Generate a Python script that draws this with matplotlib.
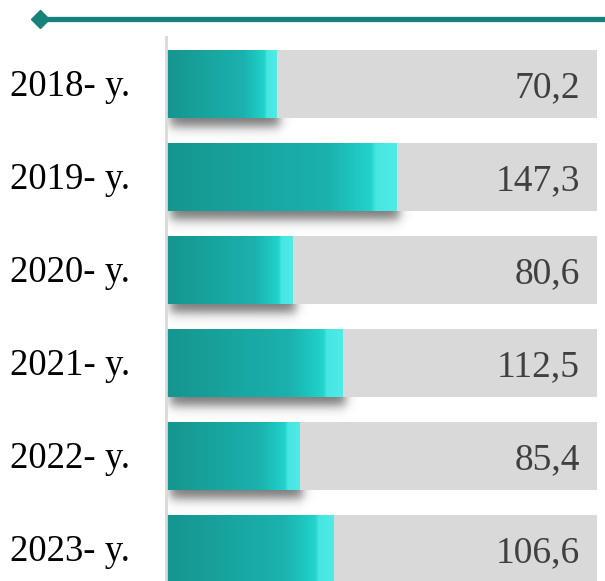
import numpy as np
import matplotlib
matplotlib.use("Agg")
import matplotlib.pyplot as plt
from matplotlib.colors import LinearSegmentedColormap

years = ["2018- y.", "2019- y.", "2020- y.", "2021- y.", "2022- y.", "2023- y."]
values = [70.2, 147.3, 80.6, 112.5, 85.4, 106.6]
value_labels = ["70,2", "147,3", "80,6", "112,5", "85,4", "106,6"]
track_max = 275

W, H = 605, 581
fig = plt.figure(figsize=(W / 100, H / 100), dpi=100)
fig.patch.set_facecolor("white")

# pixel <-> data scale of the bar area
x_px = 1 / 1.568
y_px = 1 / 93
ax = fig.add_axes([166 / W, 0, (W - 166) / W, 544 / H])
bar_h = 68 / 93

teal = LinearSegmentedColormap.from_list("teal", [
    (0.00, "#15958f"), (0.70, "#1bb2ad"), (0.80, "#1dc3bd"),
    (0.89, "#22d3cc"), (0.91, "#46e6e1"), (1.00, "#50ebe6")])
grad = teal(np.linspace(0, 1, 512))[None, :, :]

sig = lambda t: 1 / (1 + np.exp(-t))

for i, (v, lab) in enumerate(zip(values, value_labels)):
    ax.barh(i, track_max, height=bar_h, color="#d9d9d9", zorder=1)

    # soft drop shadow, kept underneath the grey track
    x0, x1 = 4 * x_px, v + 3 * x_px
    y0, y1 = i - bar_h / 2 + 9 * y_px, i + bar_h / 2 + 9 * y_px
    sx, sy = 3.0, 3.2
    xa, xb = 0, v + 18 * x_px
    ya, yb = i, i + bar_h / 2 + 24 * y_px
    xx = np.linspace(xa, xb, 200)
    yy = np.linspace(ya, yb, 80)
    X, Y = np.meshgrid(xx, yy)
    a = (sig((X - x0) / (sx * x_px)) * sig((x1 - X) / (sx * x_px))
         * sig((Y - y0) / (sy * y_px)) * sig((y1 - Y) / (sy * y_px)))
    rgba = np.zeros((80, 200, 4))
    rgba[..., :3] = 0.25
    rgba[..., 3] = 0.7 * a
    ax.imshow(rgba, extent=(xa, xb, ya, yb), origin="lower",
              aspect="auto", zorder=0.5, interpolation="bilinear")

    bar = ax.barh(i, v, height=bar_h, color="none", zorder=3)[0]
    im = ax.imshow(grad, extent=(0, v, i - bar_h / 2, i + bar_h / 2),
                   aspect="auto", zorder=3, interpolation="bilinear")
    im.set_clip_path(bar)

    ax.text(track_max - 17 * x_px, i + 13 * y_px, lab, ha="right",
            va="baseline", fontsize=27, family="Liberation Serif",
            color="#404040", zorder=4)
    ax.text(-156 * x_px, i + 12 * y_px, years[i], ha="left", va="baseline",
            fontsize=26.5, family="Liberation Serif", color="black",
            clip_on=False)

ax.set_xlim(0, 439 * x_px)
ax.set_ylim(5.344, -0.505)
ax.set_xticks([])
ax.set_yticks([])
for sp in ["top", "right", "bottom"]:
    ax.spines[sp].set_visible(False)
ax.spines["left"].set_color("#d9d9d9")
ax.spines["left"].set_linewidth(2)
ax.spines["left"].set_zorder(5)

# header rule with diamond end
fig.add_artist(plt.Line2D([40 / W, 1], [1 - 19 / H, 1 - 19 / H],
                          color="#17827c", lw=3.8, solid_capstyle="butt"))
fig.add_artist(plt.Line2D([40 / W], [1 - 19 / H], marker="D",
                          markersize=9, color="#17827c", lw=0))

fig.savefig("out.png", dpi=100)
